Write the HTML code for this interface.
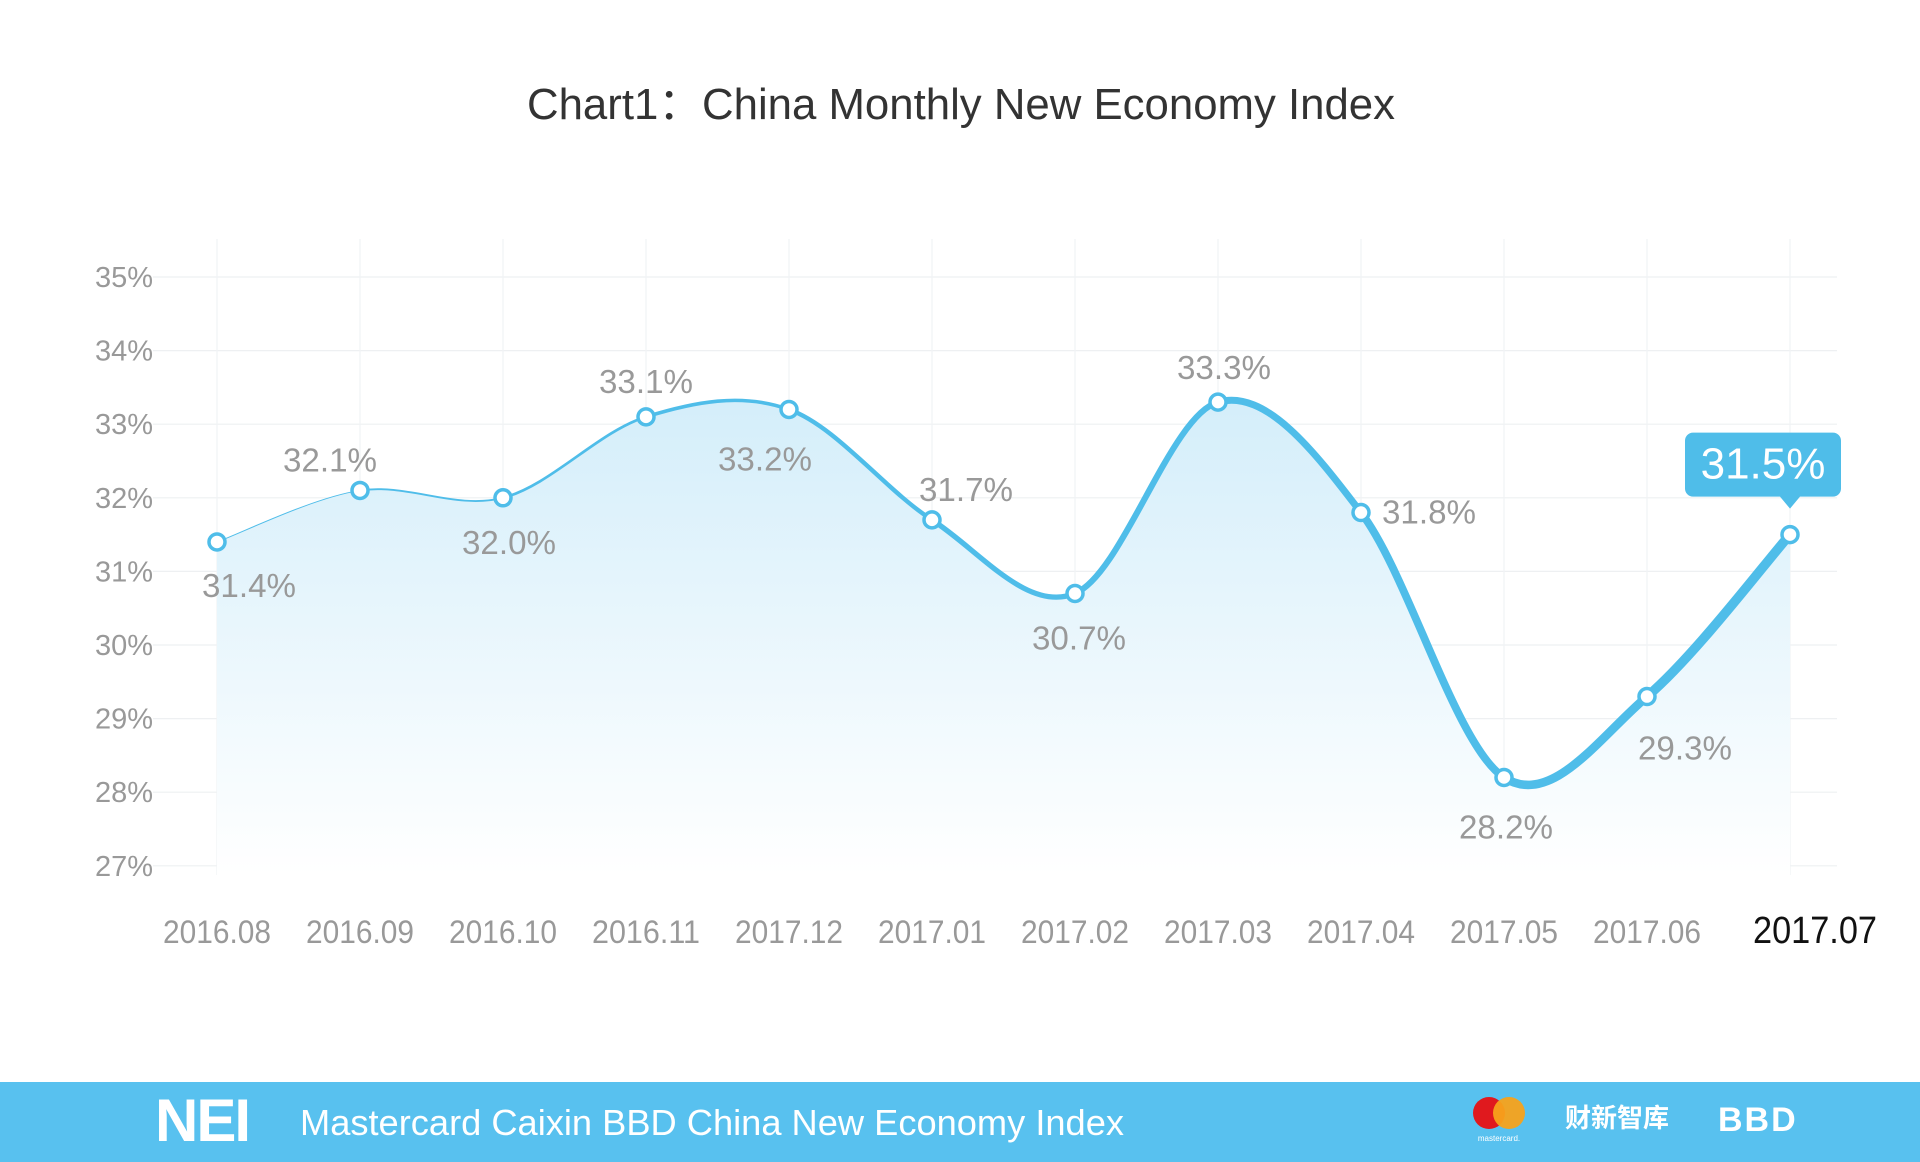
<!DOCTYPE html>
<html><head><meta charset="utf-8"><style>
html,body{margin:0;padding:0;background:#fff;width:1920px;height:1162px;overflow:hidden}
svg{display:block}
</style></head><body>
<svg id="chart" width="1920" height="1162" xmlns="http://www.w3.org/2000/svg">
<defs><linearGradient id="fillg" x1="0" y1="0" x2="0" y2="1"><stop offset="0" stop-color="#d4eefa"/><stop offset="1" stop-color="#ffffff"/></linearGradient></defs>
<text x="961" y="119" text-anchor="middle" font-family="Liberation Sans, sans-serif" font-size="44" fill="#333" textLength="868" lengthAdjust="spacingAndGlyphs">Chart1：China Monthly New Economy Index</text>
<g id="grid"></g><g id="area"></g><g id="lines"></g><g id="pts"></g><g id="labels"></g>
<rect x="0" y="1082" width="1920" height="80" fill="#58c1ef"/>
<text x="155" y="1141" font-family="Liberation Sans, sans-serif" font-weight="bold" font-size="60" fill="#fff" letter-spacing="-2">NEI</text>
<text x="300" y="1135" font-family="Liberation Sans, sans-serif" font-size="36" fill="#fff" textLength="824" lengthAdjust="spacingAndGlyphs">Mastercard Caixin BBD China New Economy Index</text>
<g><circle cx="1489" cy="1113" r="16" fill="#e0191e"/><circle cx="1509" cy="1113" r="16" fill="#f7a21b" opacity="0.95"/><text x="1499" y="1141" text-anchor="middle" font-family="Liberation Sans, sans-serif" font-size="8" fill="#fff">mastercard.</text></g>
<text x="1565" y="1127" font-family="Liberation Sans, 'Noto Sans CJK SC', sans-serif" font-weight="bold" font-size="26" fill="#fff">财新智库</text>
<text x="1718" y="1131" font-family="Liberation Sans, sans-serif" font-weight="bold" font-size="34" fill="#fff" letter-spacing="2">BBD</text>
</svg>
<script>
const categories=["2016.08","2016.09","2016.10","2016.11","2017.12","2017.01","2017.02","2017.03","2017.04","2017.05","2017.06","2017.07"];
const values=[31.4,32.1,32.0,33.1,33.2,31.7,30.7,33.3,31.8,28.2,29.3,31.5];
const yTicks=[27,28,29,30,31,32,33,34,35];
const labelOffsets=[[32,44],[-30,-30],[6,45],[0,-35],[-24,50],[34,-30],[4,45],[6,-34],[68,0],[2,50],[38,52]];
const NS="http://www.w3.org/2000/svg";
const x0=217,step=143.0,yTop=277,perPct=73.6;
const X=i=>x0+i*step, Y=v=>yTop+(35-v)*perPct;
function mk(t,a,p){const e=document.createElementNS(NS,t);for(const k in a)e.setAttribute(k,a[k]);p.appendChild(e);return e;}
const grid=document.getElementById('grid');
yTicks.forEach(t=>{
 const l=mk('line',{x1:153,x2:1837,y1:Y(t),y2:Y(t),stroke:'#eef0f2','stroke-width':1.2},grid);
 
 
 const tx=mk('text',{x:153,y:Y(t)+10,'text-anchor':'end','font-family':'Liberation Sans Narrow, Liberation Sans, sans-serif','font-size':29,fill:'#999'},grid);
 tx.textContent=t+'%';
 
 
});
categories.forEach((c,i)=>{
 const l=mk('line',{x1:X(i),x2:X(i),y1:239,y2:875,stroke:'#f1f3f5','stroke-width':1.2},grid);
 
 
 const last=i===categories.length-1;
 const tx=mk('text',{x:last?X(i)+25:X(i),y:943,'text-anchor':'middle','font-family':'Liberation Sans Narrow, Liberation Sans, sans-serif','font-size':last?38:32,fill:last?'#111':'#999',textLength:last?124:108,lengthAdjust:'spacingAndGlyphs'},grid);
 tx.textContent=c;
 
 
});
const P=values.map((v,i)=>[X(i),Y(v)]);
function seg(i){const p0=P[Math.max(0,i-1)],p1=P[i],p2=P[i+1],p3=P[Math.min(P.length-1,i+2)];const k=1/6;
 return [p1,[p1[0]+(p2[0]-p0[0])*k,p1[1]+(p2[1]-p0[1])*k],[p2[0]-(p3[0]-p1[0])*k,p2[1]-(p3[1]-p1[1])*k],p2];}
let d='M'+P[0][0]+','+P[0][1];
for(let i=0;i<P.length-1;i++){const s=seg(i);d+=' C'+s[1]+' '+s[2]+' '+s[3];}
const ar=mk('path',{d:d+' L'+P[P.length-1][0]+',875 L'+P[0][0]+',875 Z',fill:'url(#fillg)'},document.getElementById('area'));


const lines=document.getElementById('lines');
for(let i=0;i<P.length-1;i++){const s=seg(i);
 const p=mk('path',{d:'M'+s[0]+' C'+s[1]+' '+s[2]+' '+s[3],fill:'none',stroke:'#4fbde9','stroke-width':1+i*0.85,'stroke-linecap':'round'},lines);
 
 
}
const pts=document.getElementById('pts'),labs=document.getElementById('labels');
values.forEach((v,i)=>{
 const c=mk('circle',{cx:P[i][0],cy:P[i][1],r:8,fill:'#fff',stroke:'#4fbde9','stroke-width':3.5},pts);
 
 
 if(i<labelOffsets.length){
  const t=mk('text',{x:P[i][0]+labelOffsets[i][0],y:P[i][1]+labelOffsets[i][1]+11,'text-anchor':'middle','font-family':'Liberation Sans Narrow, Liberation Sans, sans-serif','font-size':33,fill:'#999',textLength:94,lengthAdjust:'spacingAndGlyphs'},labs);
  t.textContent=v.toFixed(1)+'%';
  
  
 } else {
  const bx=P[i][0]-105,by=P[i][1]-102;
  const b=mk('path',{d:`M${bx+8},${by} h140 a8,8 0 0 1 8,8 v48 a8,8 0 0 1 -8,8 h-33 l-10,12 l-10,-12 h-87 a8,8 0 0 1 -8,-8 v-48 a8,8 0 0 1 8,-8 z`,fill:'#4fbde9'},labs);
  
  
  const t=mk('text',{x:bx+78,y:by+46,'text-anchor':'middle','font-family':'Liberation Sans Narrow, Liberation Sans, sans-serif','font-size':44,fill:'#fff'},labs);
  t.textContent=v.toFixed(1)+'%';
  
  
 }
});
</script>
</body></html>
